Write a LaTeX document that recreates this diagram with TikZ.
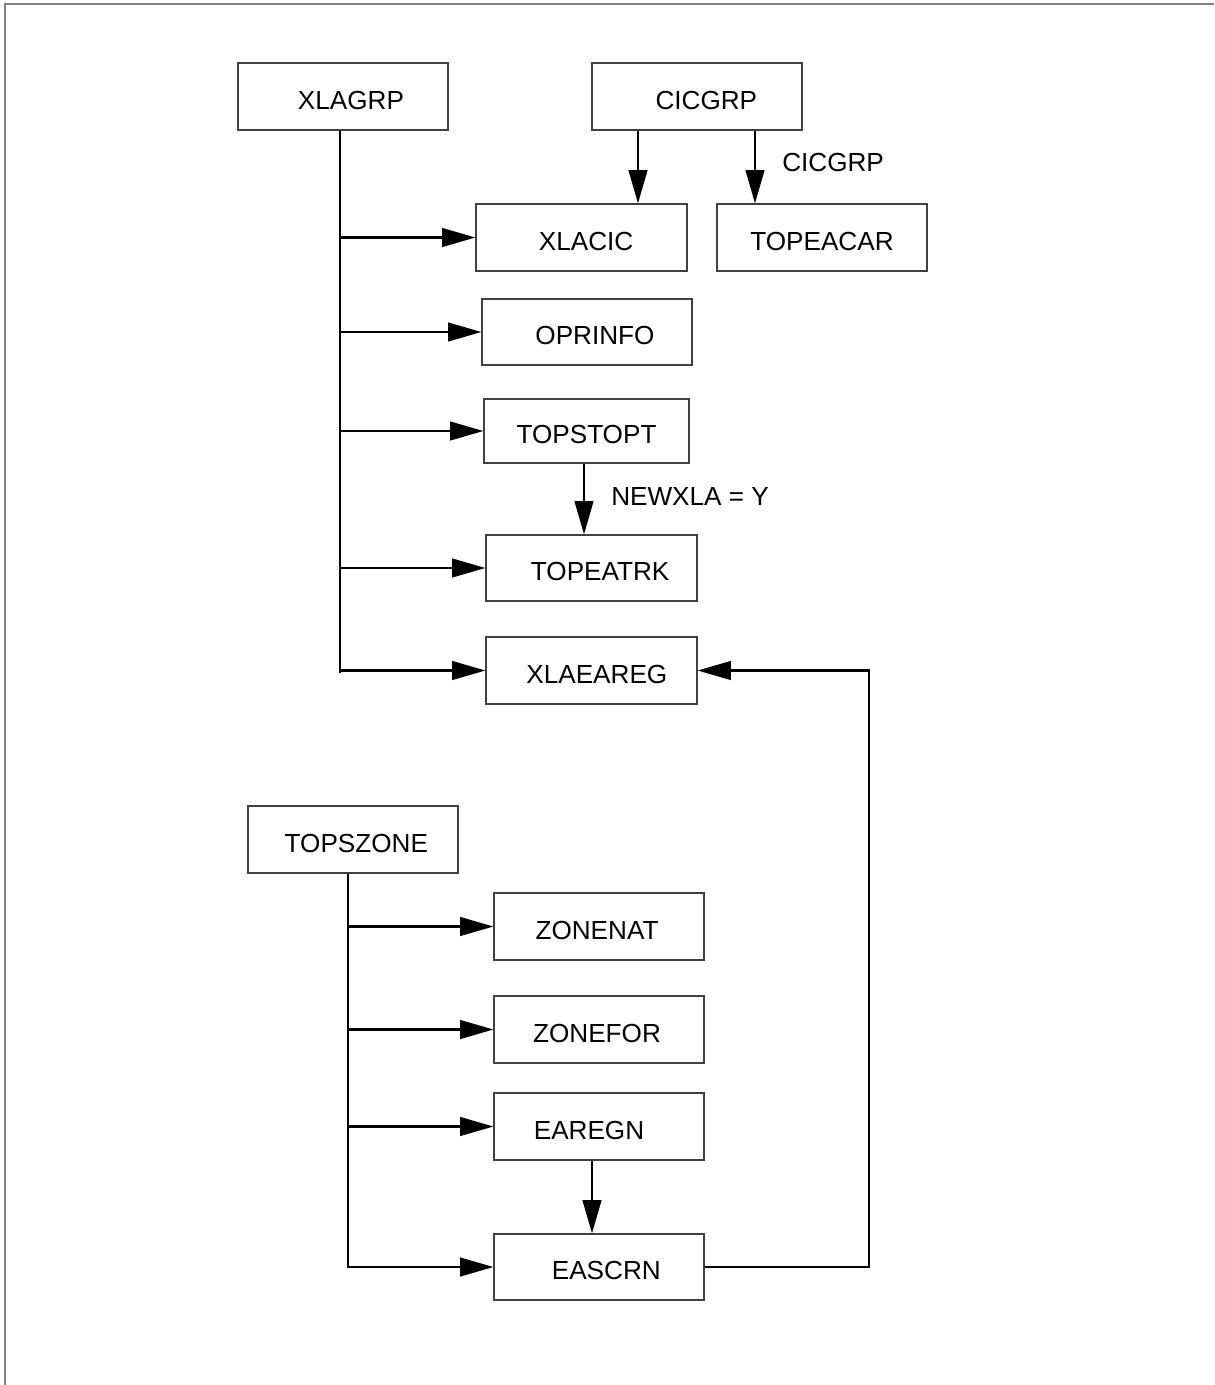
\documentclass[tikz,border=0pt]{standalone}
\usepackage{fontspec}
\setmainfont{Liberation Sans}
\usetikzlibrary{arrows.meta}
\tikzset{
  blk/.style={draw=black!75, line width=0.9pt, rectangle, inner sep=0pt,
    minimum width=157.5pt, minimum height=50.25pt,
    text height=19.4pt, text depth=0pt,
    font=\fontsize{19.6pt}{23pt}\selectfont,
    execute at begin node={\hspace*{#1}}},
  blk/.default=0pt,
  ln/.style={line width=1.7pt, black},
  arr/.style={ln, -{Triangle[length=25pt,width=14pt]}},
  lbl/.style={anchor=west, inner sep=0pt, font=\fontsize{19.6pt}{23pt}\selectfont},
  frame/.style={line width=1.6pt, black!50}
}
\begin{document}
\begin{tikzpicture}[x=0.75pt, y=-0.75pt]
\useasboundingbox (0,0) rectangle (1214,1385);
\draw[frame] (5,1385) -- (5,4) -- (1214,4);

% nodes
\node[blk=12pt] (xlagrp) at (343,96.5) {XLAGRP};
\node[blk=14pt] (cicgrp) at (697,96.5) {CICGRP};
\node[blk=7pt, minimum width=158.25pt] (xlacic) at (581.5,237.5) {XLACIC};
\node[blk] (topeacar) at (822,237.5) {TOPEACAR};
\node[blk=12pt, minimum height=49.5pt] (oprinfo) at (587,332) {OPRINFO};
\node[blk, minimum width=153.75pt, minimum height=48pt] (topstopt) at (586.5,431) {TOPSTOPT};
\node[blk=13pt, minimum width=158.25pt, minimum height=49.5pt] (topeatrk) at (591.5,568) {TOPEATRK};
\node[blk=8pt, minimum width=158.25pt] (xlaeareg) at (591.5,670.5) {XLAEAREG};
\node[blk=5pt] (topszone) at (353,839.5) {TOPSZONE};
\node[blk=-3pt] (zonenat) at (599,926.5) {ZONENAT};
\node[blk=-3pt] (zonefor) at (599,1029.5) {ZONEFOR};
\node[blk=-15pt] (earegn) at (599,1126.5) {EAREGN};
\node[blk=11pt, minimum height=49.5pt] (eascrn) at (599,1267) {EASCRN};

\node[lbl] (lab1) at (782,163) {CICGRP};
\node[lbl] (lab2) at (611,497) {NEWXLA = Y};

% helper coordinates
\coordinate (ta) at (340,673);
\coordinate (tb) at (348,1268);
\coordinate (c1) at (638,0);
\coordinate (c2) at (755,0);
\coordinate (c3) at (584,0);
\coordinate (c4) at (592,0);
\coordinate (r1) at (869,0);

% XLAGRP tree
\draw[ln] (xlagrp.south -| ta) -- (ta);
\draw[arr] (xlacic.west -| ta) -- (xlacic.west);
\draw[arr] (oprinfo.west -| ta) -- (oprinfo.west);
\draw[arr] (topstopt.west -| ta) -- (topstopt.west);
\draw[arr] (topeatrk.west -| ta) -- (topeatrk.west);
\draw[arr] (xlaeareg.west -| ta) -- (xlaeareg.west);

% CICGRP
\draw[arr] (cicgrp.south -| c1) -- (xlacic.north -| c1);
\draw[arr] (cicgrp.south -| c2) -- (topeacar.north -| c2);

% TOPSTOPT -> TOPEATRK
\draw[arr] (topstopt.south -| c3) -- (topeatrk.north -| c3);

% TOPSZONE tree
\draw[ln] (topszone.south -| tb) -- (tb);
\draw[arr] (zonenat.west -| tb) -- (zonenat.west);
\draw[arr] (zonefor.west -| tb) -- (zonefor.west);
\draw[arr] (earegn.west -| tb) -- (earegn.west);
\draw[arr] (eascrn.west -| tb) -- (eascrn.west);

% EAREGN -> EASCRN
\draw[arr] (earegn.south -| c4) -- (eascrn.north -| c4);

% EASCRN -> XLAEAREG
\draw[arr] (eascrn.east) -- (eascrn.east -| r1) -- (xlaeareg.east -| r1) -- (xlaeareg.east);
\end{tikzpicture}
\end{document}
